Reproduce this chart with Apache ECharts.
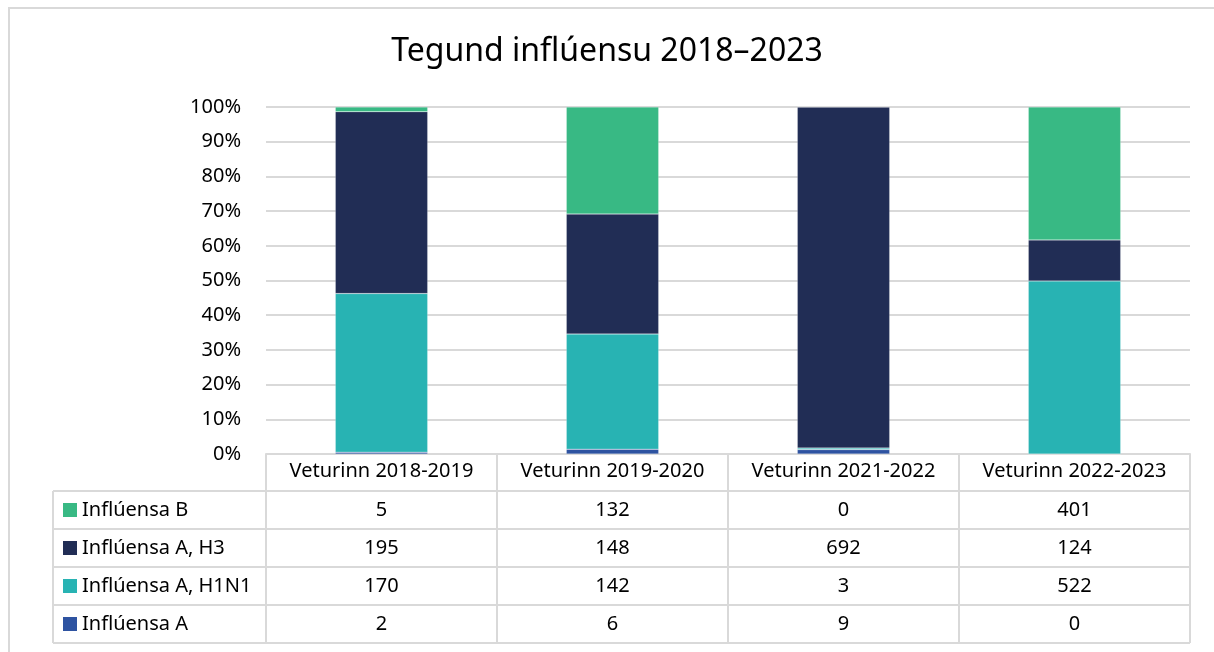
<!DOCTYPE html>
<html>
<head>
<meta charset="utf-8">
<script src="https://cdn.jsdelivr.net/npm/echarts@6/dist/echarts.min.js"></script>
<style>
  html, body { margin: 0; padding: 0; background: #fff; }
  #chart { width: 1214px; height: 652px; }
</style>
</head>
<body>
<div id="chart"></div>
<script>
const seasons = ['Veturinn 2018-2019', 'Veturinn 2019-2020', 'Veturinn 2021-2022', 'Veturinn 2022-2023'];
// stacking order, bottom to top
const seriesNames = ['Inflúensa A', 'Inflúensa A, H1N1', 'Inflúensa A, H3', 'Inflúensa B'];
const fluA = [2, 6, 9, 0];
const fluH1N1 = [170, 142, 3, 522];
const fluH3 = [195, 148, 692, 124];
const fluB = [5, 132, 0, 401];
const colors = ['#2E53A1', '#28B3B3', '#212D55', '#38B984'];

const counts = [fluA, fluH1N1, fluH3, fluB];
const totals = seasons.map((s, i) => counts.reduce((sum, arr) => sum + arr[i], 0));

const FONT = 'Noto Sans';
const LINE = '#d9d9d9';
const TXT = 20;

const chart = echarts.init(document.getElementById('chart'));

chart.setOption({
  animation: false,
  textStyle: { fontFamily: FONT, color: '#000' },
  title: {
    text: 'Tegund inflúensu 2018–2023',
    left: 'center',
    top: 31,
    textStyle: { fontSize: 32, fontWeight: 'normal', color: '#000', fontFamily: FONT },
  },
  grid: {
    left: 266,
    right: 24,
    top: 107,
    bottom: 198,
    containLabel: false,
    outerBoundsMode: 'none',
  },
  xAxis: {
    type: 'category',
    data: seasons,
    axisLine: { show: true, lineStyle: { color: LINE, width: 2 } },
    axisTick: { show: false },
    axisLabel: { interval: 0, hideOverlap: false, fontSize: TXT, color: '#000', margin: 7, fontFamily: FONT },
  },
  yAxis: {
    type: 'value',
    min: 0,
    max: 100,
    interval: 10,
    axisLine: { show: false },
    axisTick: { show: false },
    axisLabel: { formatter: '{value}%', fontSize: TXT, color: '#000', margin: 25, fontFamily: FONT },
    splitLine: { lineStyle: { color: LINE, width: 2 } },
  },
  series: seriesNames.map((name, k) => ({
    name: name,
    type: 'bar',
    stack: 'total',
    barWidth: '40%',
    itemStyle: { color: colors[k], borderColor: 'rgba(255,255,255,0.4)', borderWidth: 0.5 },
    data: counts[k].map((v, i) => (v / totals[i]) * 100),
  })),
});

// data table under the plot
const tableRows = [3, 2, 1, 0]; // top to bottom: B, H3, H1N1, A
const xs = seasons.map(s => chart.convertToPixel({ xAxisIndex: 0 }, s));
const half = (xs[1] - xs[0]) / 2;
const axisY = chart.convertToPixel({ yAxisIndex: 0 }, 0);
const plotLeft = xs[0] - half;
const plotRight = xs[xs.length - 1] + half;
const tableLeft = 53;
const rowTop = 491;
const rowH = 38;
const tableBottom = rowTop + rowH * tableRows.length;
const font = TXT + 'px "' + FONT + '"';

const graphics = [];
// outer frame (only top and left edge visible in the picture)
graphics.push({ type: 'rect', shape: { x: 9, y: 8, width: 1220, height: 660 }, style: { fill: 'none', stroke: LINE, lineWidth: 2 } });

// vertical lines
[plotLeft].concat(xs.map(x => x + half)).forEach(x => {
  graphics.push({ type: 'line', shape: { x1: x, y1: axisY, x2: x, y2: tableBottom }, style: { stroke: LINE, lineWidth: 2 } });
});
graphics.push({ type: 'line', shape: { x1: tableLeft, y1: rowTop, x2: tableLeft, y2: tableBottom }, style: { stroke: LINE, lineWidth: 2 } });
// horizontal lines
for (let r = 0; r <= tableRows.length; r++) {
  const y = rowTop + r * rowH;
  graphics.push({ type: 'line', shape: { x1: tableLeft, y1: y, x2: plotRight, y2: y }, style: { stroke: LINE, lineWidth: 2 } });
}
// rows
tableRows.forEach((k, r) => {
  const cy = rowTop + r * rowH + rowH / 2;
  graphics.push({ type: 'rect', shape: { x: 63, y: cy - 7, width: 14, height: 14 }, style: { fill: colors[k] } });
  graphics.push({ type: 'text', x: 82, y: cy, style: { text: seriesNames[k], font: font, fill: '#000', verticalAlign: 'middle' } });
  xs.forEach((x, i) => {
    graphics.push({ type: 'text', x: x, y: cy, style: { text: String(counts[k][i]), font: font, fill: '#000', align: 'center', verticalAlign: 'middle' } });
  });
});

chart.setOption({ graphic: graphics });
</script>
</body>
</html>
